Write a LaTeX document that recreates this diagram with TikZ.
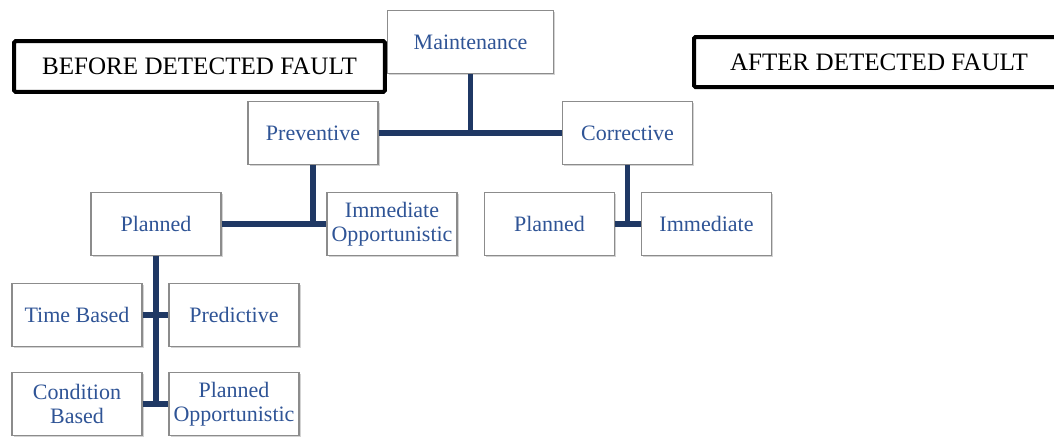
\documentclass[tikz,border=0pt]{standalone}
\usepackage{fontspec}
\setmainfont{Liberation Serif}
\usetikzlibrary{shadows}
\definecolor{linkblue}{RGB}{31,56,100}
\definecolor{textblue}{RGB}{47,84,150}
\definecolor{boxgray}{RGB}{140,140,140}
\begin{document}
\begin{tikzpicture}[x=0.75pt,y=-0.75pt,
  catbox/.style={draw=boxgray, line width=0.8pt, fill=white, text=textblue,
    minimum width=97.5pt, minimum height=47.25pt, inner sep=0pt, align=center,
    font=\fontsize{16.5}{18}\selectfont,
    drop shadow={shadow xshift=1.2pt, shadow yshift=-1.2pt, opacity=0.35, fill=gray}},
  phasebox/.style={draw=black, line width=3pt, rounded corners=1pt, fill=white, text=black,
    minimum width=278pt, minimum height=38pt, inner sep=0pt,
    font=\fontsize{18.8}{20}\selectfont},
  link/.style={draw=linkblue, line width=3.9pt}]
\useasboundingbox (0,0) rectangle (1054,437);
\node[phasebox] (before) at (199.5,66.5) {BEFORE DETECTED FAULT};
\node[phasebox, minimum width=277.5pt, minimum height=37.5pt] (after) at (879,62) {AFTER DETECTED FAULT};
\node[catbox, minimum width=124pt] (maint) at (470.5,42) {Maintenance};
\node[catbox] (prev) at (313,133) {Preventive};
\node[catbox] (corr) at (627.5,133) {Corrective};
\node[catbox] (planL) at (156,224) {Planned};
\node[catbox] (immopp) at (392,224) {Immediate\\Opportunistic};
\node[catbox] (planR) at (549.5,224) {Planned};
\node[catbox] (imm) at (706.5,224) {Immediate};
\node[catbox] (timeb) at (77,315) {Time Based};
\node[catbox] (pred) at (234,315) {Predictive};
\node[catbox] (condb) at (77,404) {Condition\\Based};
\node[catbox] (planopp) at (234,404) {Planned\\Opportunistic};
\draw[link] (maint.south) -- (maint.south |- prev.east);
\draw[link] (prev.east) -- (corr.west);
\draw[link] (prev.south) -- (prev.south |- planL.east);
\draw[link] (planL.east) -- (immopp.west);
\draw[link] (corr.south) -- (corr.south |- planR.east);
\draw[link] (planR.east) -- (imm.west);
\draw[link] (planL.south) -- (planL.south |- condb.east);
\draw[link] (timeb.east) -- (pred.west);
\draw[link] (condb.east) -- (planopp.west);
\end{tikzpicture}
\end{document}
